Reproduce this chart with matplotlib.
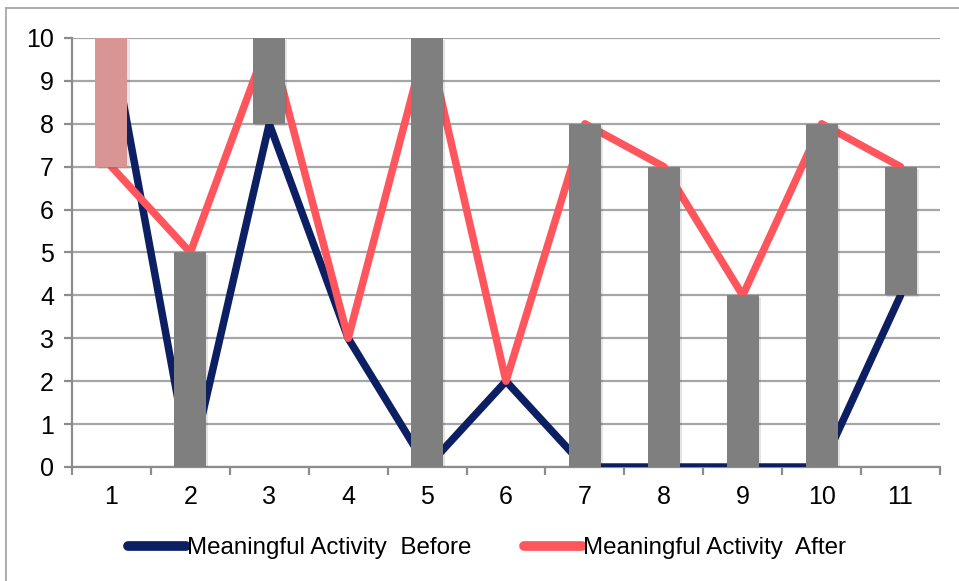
import matplotlib
matplotlib.use('Agg')
import matplotlib.pyplot as plt
import matplotlib.patheffects as pe
import numpy as np

plt.rcParams['font.family'] = ['Liberation Sans', 'DejaVu Sans']

participants = [1, 2, 3, 4, 5, 6, 7, 8, 9, 10, 11]
before = [10, 0, 8, 3, 0, 2, 0, 0, 0, 0, 4]
after = [7, 5, 10, 3, 10, 2, 8, 7, 4, 8, 7]
y_ticks = [0, 1, 2, 3, 4, 5, 6, 7, 8, 9, 10]

navy = '#0C1F62'
coral = '#FF555D'
grey_bar = '#7F7F7F'
down_bar = '#D99594'
axis_grey = '#8C8C8C'

fig = plt.figure(figsize=(9.59, 5.81), dpi=100)
ax = fig.add_axes([72 / 959, 1 - 467 / 581, 868 / 959, 429 / 581])

x = np.array(participants)
ax.plot(x, before, color=navy, lw=5.4, solid_joinstyle='round', solid_capstyle='round',
        label='Meaningful Activity  Before', zorder=3)
ax.plot(x, after, color=coral, lw=5.4, solid_joinstyle='round', solid_capstyle='round',
        label='Meaningful Activity  After', zorder=3)

# up/down bars between the two series
lo = np.minimum(before, after)
hi = np.maximum(before, after)
cols = [grey_bar if a >= b else down_bar for a, b in zip(after, before)]
shadow = [pe.SimplePatchShadow(offset=(1.5, -1.5), alpha=0.12), pe.Normal()]
bars = ax.bar(x, hi - lo, bottom=lo, width=0.405, color=cols, zorder=4)
for b in bars:
    b.set_path_effects(shadow)

ax.set_xlim(0.5, 11.5)
ax.set_ylim(0, 10)
ax.set_yticks(y_ticks)
ax.set_xticks(np.arange(0.5, 12, 1))
ax.set_xticklabels([])
ax.set_xticks(x, minor=True)
ax.set_xticklabels([str(p) for p in participants], minor=True)

ax.yaxis.grid(True, color='#A6A6A6', lw=1.6, zorder=0)
ax.set_axisbelow(True)
for s in ['top', 'right']:
    ax.spines[s].set_visible(False)
for s in ['left', 'bottom']:
    ax.spines[s].set_color(axis_grey)
    ax.spines[s].set_linewidth(1.6)

ax.tick_params(axis='y', which='major', length=6, width=1.6, color=axis_grey,
               labelsize=18, pad=7)
ax.tick_params(axis='x', which='major', length=6, width=1.6, color=axis_grey)
ax.tick_params(axis='x', which='minor', length=0, labelsize=18, pad=13)

leg = fig.legend(loc='center', bbox_to_anchor=(487 / 959, 1 - 548 / 581), ncol=2,
                 frameon=False, fontsize=17.4, handlelength=2.4, handletextpad=0.05,
                 columnspacing=2.2)
for h in leg.get_lines():
    h.set_linewidth(7)
    h.set_solid_capstyle('round')

# outer frame (only top/left visible in the original crop)
fig.add_artist(plt.Line2D([6 / 959, 6 / 959], [0, 1 - 8 / 581], transform=fig.transFigure,
                          color='#A0A0A0', lw=1.2))
fig.add_artist(plt.Line2D([6 / 959, 1], [1 - 8 / 581, 1 - 8 / 581], transform=fig.transFigure,
                          color='#A0A0A0', lw=1.2))

fig.savefig('out.png', dpi=100)
